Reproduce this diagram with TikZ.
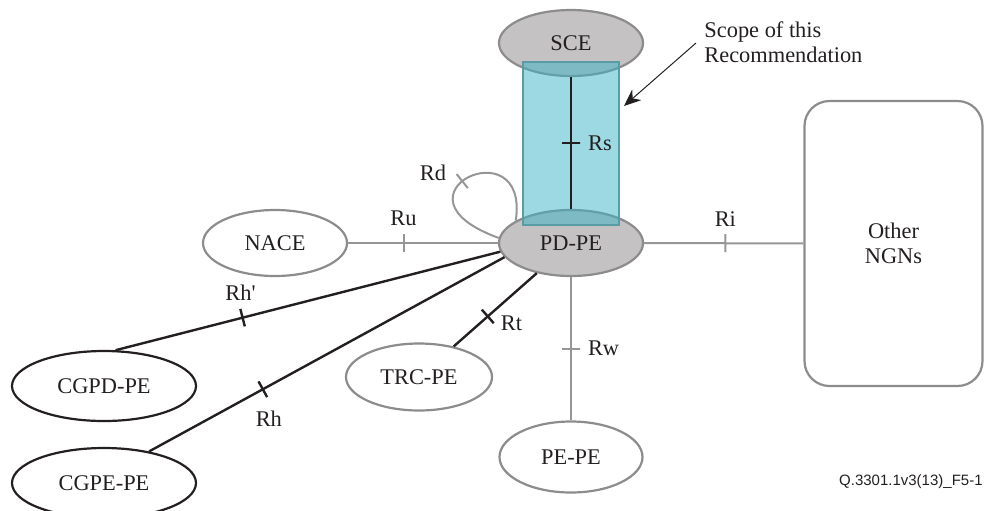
\documentclass[tikz,border=0pt]{standalone}
\usepackage{fontspec}
\setmainfont{Liberation Serif}
\newfontfamily\footfont{Liberation Sans}
\usepackage{xcolor}
\usetikzlibrary{positioning}
\usetikzlibrary{shapes.geometric}
\usetikzlibrary{arrows.meta}
\definecolor{pegray}{RGB}{196,194,194}
\definecolor{linegray}{RGB}{150,150,150}
\definecolor{edgegray}{RGB}{140,140,140}
\definecolor{ink}{RGB}{35,31,32}
\definecolor{scopecyan}{RGB}{57,179,197}
\newcommand\pew{72pt}
\newcommand\peh{33pt}
\newcommand\ticklen{9pt}
\tikzset{
    pe/.style = {ellipse, draw=edgegray, line width=1.1pt, minimum width=\pew, minimum height=\peh, inner sep=0pt, text=ink},
    pefill/.style = {pe, fill=pegray},
    cgpe/.style = {pe, draw=ink, minimum width=92pt, minimum height=35pt},
    ngnbox/.style = {draw=edgegray, line width=1.1pt, rounded corners=12.5pt, minimum width=89pt, minimum height=142.5pt, align=center, text=ink},
    scopebox/.style = {draw=scopecyan!55!gray, line width=0.6pt, fill=scopecyan, fill opacity=0.5, minimum width=48pt, minimum height=81.5pt, inner sep=0pt},
    grayref/.style = {color=linegray, line width=1pt},
    inkref/.style = {color=ink, line width=1.2pt},
    tick/.style = {sloped, rectangle, draw, inner sep=0pt, minimum width=0pt, minimum height=\ticklen},
    reflabel/.style = {inner sep=1pt, text=ink},
    pointer/.style = {draw=ink, line width=0.5pt, -{Stealth[length=8.5pt, width=7pt]}},
}

\begin{document}
\begin{tikzpicture}[x=0.5pt, y=-0.5pt, font=\fontsize{11.2}{12.5}\selectfont]
    \useasboundingbox (0,0) rectangle (985,510);
    % --- Functional entities
    \node[pefill] (SCE) at (571,43) {SCE};
    \node[pefill] (PDPE) at (571,243) {PD-PE};
    \node[pe] (NACE) at (275,243) {NACE};
    \node[pe, minimum width=73pt, minimum height=33.5pt] (TRCPE) at (419,377) {TRC-PE};
    \node[pe, minimum width=71.5pt, minimum height=35.5pt] (PEPE) at (571,457) {PE-PE};
    \node[cgpe] (CGPDPE) at (104,386) {CGPD-PE};
    \node[cgpe] (CGPEPE) at (104,483) {CGPE-PE};
    \node[ngnbox] (NGN) at (893.5,243.5) {Other\\NGNs};
    % --- Scope of the Recommendation
    \node[scopebox] (scope) at (571,143.5) {};
    \node[inner sep=0pt, align=left, anchor=north west, text=ink] (scopetxt) at (704,21) {Scope of this\\Recommendation};
    \coordinate (scopefrom) at (696,43);
    \coordinate (scopetip) at (624,106);
    \draw[pointer] (scopefrom) -- (scopetip);
    % --- Reference points
    \draw[inkref] (SCE) -- node[tick]{} node[reflabel, right=7pt]{Rs} (PDPE);
    \draw[grayref] (NACE) -- node[pos=.37, tick]{} node[pos=.37, reflabel, above=7pt]{Ru} (PDPE);
    \draw[grayref] (PDPE) -- node[pos=.51, tick]{} node[pos=.51, reflabel, above=7pt]{Ri} (NGN);
    \draw[grayref] (PDPE) -- node[tick]{} node[reflabel, right=7pt]{Rw} (PEPE);
    \draw[inkref] (TRCPE) -- node[pos=.41, tick]{} node[pos=.41, reflabel, right=5pt, yshift=-3.5pt]{Rt} (PDPE);
    \draw[inkref] (CGPDPE.72) -- node[pos=.33, tick]{} node[pos=.33, reflabel, above=7pt, xshift=-1pt]{Rh\textquotesingle} (PDPE.187);
    \draw[inkref] (CGPEPE.35) -- node[pos=.32, tick]{} node[pos=.32, reflabel, below=9pt, xshift=3pt]{Rh} (PDPE.192);
    % --- Loop on PD-PE
    \draw[grayref] (PDPE.176) .. controls (380,195) and (530,125) .. (PDPE.158) node[pos=.45, tick]{};
    \node[reflabel] (Rd) at (433,173) {Rd};
    % --- Figure number
    \node[inner sep=0pt, anchor=east, text=ink, font=\footfont\fontsize{7.5}{9}\selectfont] (figid) at (983,482) {Q.3301.1v3(13)\_F5-1};
\end{tikzpicture}
\end{document}
